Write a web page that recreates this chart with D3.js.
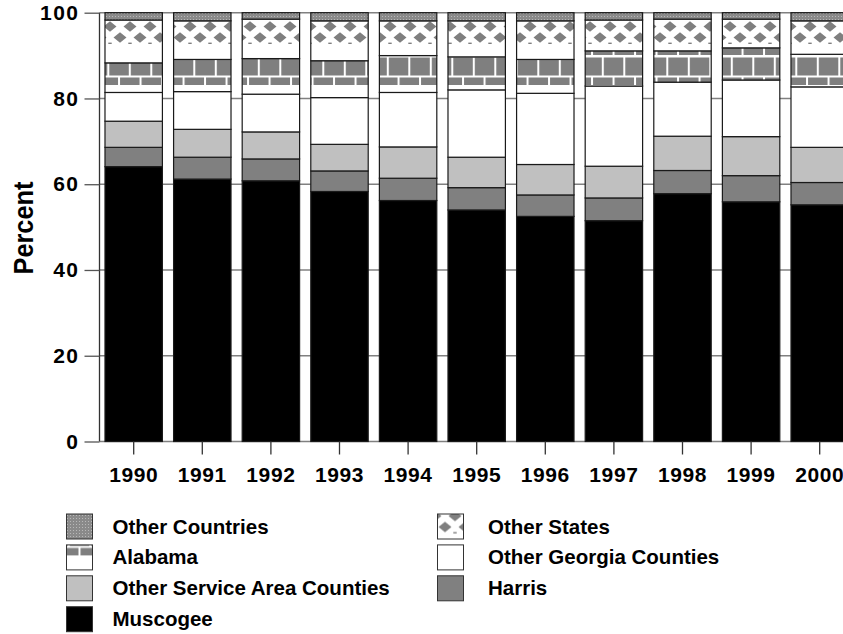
<!DOCTYPE html>
<html><head><meta charset="utf-8">
<script src="https://cdn.jsdelivr.net/npm/d3@7"></script>
<style>
html,body{margin:0;padding:0;background:#fff;}
svg text{font-family:"Liberation Sans",Arial,sans-serif;font-weight:bold;fill:#000;}
</style></head>
<body>
<svg id="chart" width="843" height="634"></svg>
<script>
const years = ["1990","1991","1992","1993","1994","1995","1996","1997","1998","1999","2000"];
const muscogee         = [64.1, 61.2, 60.8, 58.3, 56.2, 54.0, 52.5, 51.5, 57.8, 55.9, 55.2];
const harris           = [4.5, 5.1, 5.1, 4.8, 5.2, 5.2, 5.0, 5.3, 5.4, 6.1, 5.2];
const otherServiceArea = [6.1, 6.5, 6.3, 6.2, 7.3, 7.1, 7.1, 7.4, 8.0, 9.1, 8.2];
const otherGeorgia     = [6.7, 8.8, 8.8, 10.9, 12.7, 15.7, 16.6, 18.7, 12.6, 13.2, 14.1];
const alabama          = [6.9, 7.5, 8.3, 8.6, 8.6, 7.7, 7.9, 8.2, 7.3, 7.5, 7.6];
const otherStates      = [10.0, 9.0, 9.2, 9.3, 8.1, 8.4, 9.0, 7.2, 7.4, 6.7, 7.8];
const otherCountries   = [1.7, 1.9, 1.5, 1.9, 1.9, 1.9, 1.9, 1.7, 1.5, 1.5, 1.9];
const yTicks = [0, 20, 40, 60, 80, 100];
const seriesKeys = ["Muscogee","Harris","Other Service Area Counties","Other Georgia Counties","Alabama","Other States","Other Countries"];
const seriesValues = [muscogee, harris, otherServiceArea, otherGeorgia, alabama, otherStates, otherCountries];
const legendLeft = ["Other Countries","Alabama","Other Service Area Counties","Muscogee"];
const legendRight = ["Other States","Other Georgia Counties","Harris"];
const yLabel = "Percent";

const svg = d3.select("#chart");
const defs = svg.append("defs");
const G = "#7f7f7f";

function makePatterns(suffix, osX, osY, alX, alY){
  const pc = defs.append("pattern").attr("id","pc"+suffix).attr("patternUnits","userSpaceOnUse")
    .attr("width",3).attr("height",3);
  pc.append("rect").attr("width",3).attr("height",3).attr("fill","#8a8a8a");
  pc.append("rect").attr("x",1).attr("y",1).attr("width",1).attr("height",1).attr("fill","#b8b8b8");
  // diamonds
  const ps = defs.append("pattern").attr("id","ps"+suffix).attr("patternUnits","userSpaceOnUse")
    .attr("x",osX).attr("y",osY).attr("width",20).attr("height",45);
  ps.append("rect").attr("width",20).attr("height",45).attr("fill","#fff");
  const dia = (cx,cy)=>`M${cx-6.5},${cy}L${cx},${cy-5.3}L${cx+6.5},${cy}L${cx},${cy+5.3}Z`;
  ps.append("path").attr("d", dia(10,6.5) + dia(0,17.5) + dia(20,17.5)).attr("fill",G);
  ps.append("rect").attr("x",8.3).attr("y",22.6).attr("width",3.4).attr("height",1.4).attr("fill",G);
  // bricks
  const W = 21.5, H = 70;
  const pa = defs.append("pattern").attr("id","pa"+suffix).attr("patternUnits","userSpaceOnUse")
    .attr("x",alX).attr("y",alY).attr("width",W).attr("height",H);
  pa.append("rect").attr("width",W).attr("height",H).attr("fill","#fff");
  const rows = [[0,19,W/2],[21.5,18,0],[41.5,7.5,W/2]];
  rows.forEach(([ry,rh,gx])=>{
    // gap of 2px at gx
    if (gx===0){
      pa.append("rect").attr("x",2).attr("y",ry).attr("width",W-2).attr("height",rh).attr("fill",G);
    } else {
      pa.append("rect").attr("x",0).attr("y",ry).attr("width",gx).attr("height",rh).attr("fill",G);
      pa.append("rect").attr("x",gx+2).attr("y",ry).attr("width",W-gx-2).attr("height",rh).attr("fill",G);
    }
  });
}
makePatterns("", 0, 20, 107.3, 36);

const fills = {
  "Muscogee":"#000000",
  "Harris":"#808080",
  "Other Service Area Counties":"#c0c0c0",
  "Other Georgia Counties":"#ffffff",
  "Alabama":"url(#pa)",
  "Other States":"url(#ps)",
  "Other Countries":"url(#pc)"
};

const x = d3.scaleBand().domain(years)
  .range([99.5, 99.5 + 68.6*(11 - 0.163 + 0.16)])
  .paddingInner(0.163).paddingOuter(0.08);
const y = d3.scaleLinear().domain([0,100]).range([441.5, 12.7]);

svg.append("g").selectAll("line").data(yTicks).join("line")
  .attr("x1",99.5).attr("x2",843).attr("y1",d=>y(d)).attr("y2",d=>y(d))
  .attr("stroke","#808080").attr("stroke-width",1.5);

const table = years.map((yr,i)=>{
  const o = {year: yr};
  seriesKeys.forEach((k,j)=>{ o[k] = seriesValues[j][i]; });
  return o;
});
const stacked = d3.stack().keys(seriesKeys)(table);

svg.append("g").selectAll("g").data(stacked).join("g")
  .attr("fill", d=>fills[d.key])
  .selectAll("rect").data(d=>d).join("rect")
  .attr("x", d=>x(d.data.year))
  .attr("width", x.bandwidth())
  .attr("y", d=>y(d[1]))
  .attr("height", d=>y(d[0])-y(d[1]))
  .attr("stroke","#1a1a1a").attr("stroke-width",1.2);

const ya = svg.append("g").attr("transform","translate(99.5,0)")
  .call(d3.axisLeft(y).tickValues(yTicks).tickSize(15).tickPadding(5));
ya.select(".domain").attr("stroke","#333").attr("stroke-width",1.3).attr("d","M0,"+y(100)+"V"+y(0));
ya.selectAll(".tick line").attr("stroke","#555").attr("stroke-width",1.3);
ya.selectAll(".tick text").style("font-size","21px").style("letter-spacing","1.5px")
  .attr("font-family",null).attr("fill","#000");

const xa = svg.append("g").attr("transform","translate(0,441.5)")
  .call(d3.axisBottom(x).tickSize(13).tickPadding(13));
xa.select(".domain").remove();
xa.selectAll(".tick line").attr("stroke","#333").attr("stroke-width",1.3);
xa.selectAll(".tick text").style("font-size","21px").style("letter-spacing","0.6px")
  .attr("font-family",null).attr("fill","#000");

svg.append("text").attr("transform","translate(33,228) rotate(-90)")
  .attr("text-anchor","middle").style("font-size","28px")
  .attr("textLength",93).attr("lengthAdjust","spacingAndGlyphs").text(yLabel);

// legend patterns are in each row's local coordinates
makePatterns("L", 445, -4.5, 67.75, -38.5);
const legFill = k => {
  if (k==="Alabama") return "url(#paL)";
  if (k==="Other States") return "url(#psL)";
  if (k==="Other Countries") return "url(#pcL)";
  return fills[k];
};
function legendCol(keys, sx, tx){
  const g = svg.append("g");
  const row = g.selectAll("g").data(keys).join("g")
    .attr("transform",(d,i)=>`translate(0,${514 + i*30.9})`);
  row.append("rect").attr("x",sx).attr("y",0).attr("width",26).attr("height",25)
    .attr("fill",d=>legFill(d)).attr("stroke","#333").attr("stroke-width",1);
  row.append("text").attr("x",tx).attr("y",19.5).style("font-size","20.5px").text(d=>d);
}
legendCol(legendLeft, 66.5, 112.5);
legendCol(legendRight, 437.5, 488);
</script>
</body></html>
